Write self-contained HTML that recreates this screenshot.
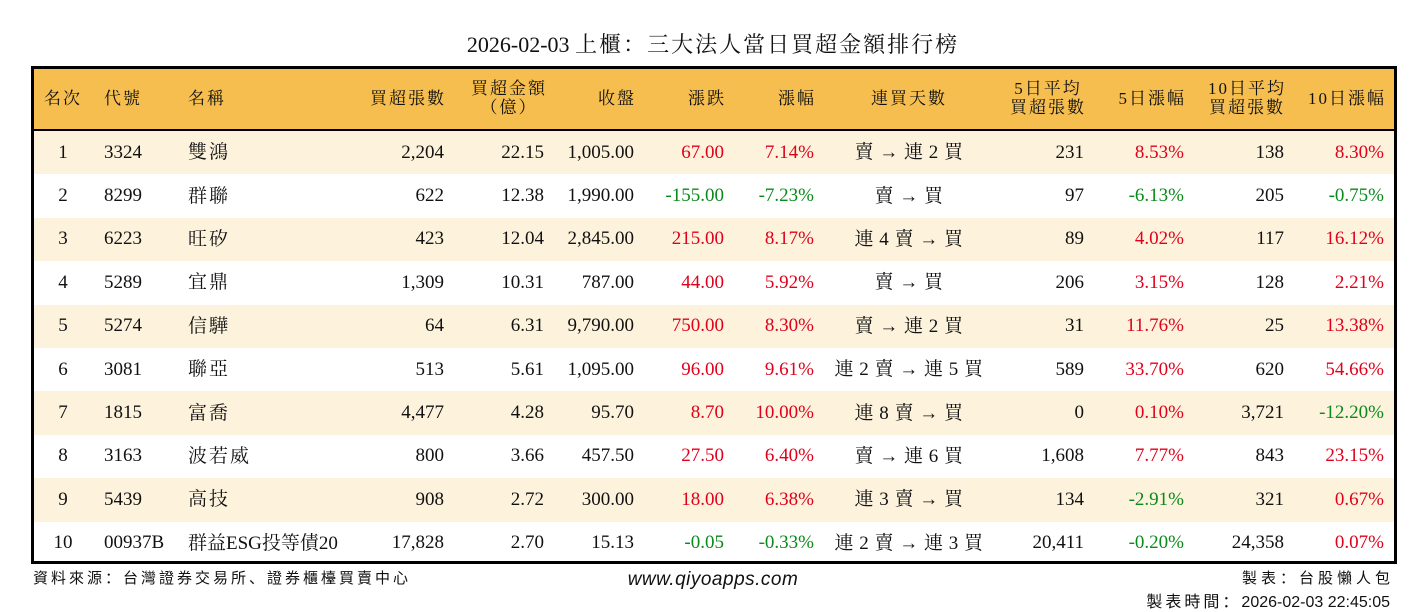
<!DOCTYPE html>
<html><head><meta charset="utf-8"><style>
body{margin:0;width:1426px;height:612px;background:#fff;position:relative;overflow:hidden;font-family:"Liberation Serif","Noto Serif CJK SC",serif;color:#111}
.title{position:absolute;top:28px;left:0;width:1426px;text-align:center;font-size:22px}
.title span{letter-spacing:2px}
.tbl{position:absolute;left:31px;top:66px;width:1360px;height:492px;border:3px solid #000}
.hdr{position:absolute;left:0;top:0;width:1360px;height:60px;background:#F6BE4F;border-bottom:3px solid #000}
.row{position:absolute;left:0;width:1360px;height:43.4px}
.odd{background:#FDF3DD}
.c{position:absolute;top:0;height:100%;display:flex;align-items:center;font-size:19px;white-space:nowrap;box-sizing:border-box}
.r{justify-content:flex-end;padding-right:10px}
.l{justify-content:flex-start;padding-left:12px}
.m{justify-content:center}
.hdr .c{font-size:17px;line-height:19px;text-align:center;flex-direction:column;letter-spacing:2px}
.hdr .c span{position:relative;top:-1px}
.hdr .c.r{align-items:flex-end;justify-content:center;padding-right:8px}
.hdr .c.l{align-items:flex-start;justify-content:center}
.hdr .c.m{align-items:center;justify-content:center}
.red{color:#E0001B}.grn{color:#0A8A1A}
.j{position:relative;top:-2px;letter-spacing:2px}
.f9 .j{letter-spacing:0.5px}
.a{font-family:"Liberation Serif",serif;font-size:19px;position:relative;top:0px}
.f1{left:0;width:58px}.f2{left:58px;width:84px}.f3{left:142px;width:175px}.f4{left:317px;width:103px}.f5{left:420px;width:100px}.f6{left:520px;width:90px}.f7{left:610px;width:90px}.f8{left:700px;width:90px}.f9{left:790px;width:170px}.f10{left:960px;width:100px}.f11{left:1060px;width:100px}.f12{left:1160px;width:100px}.f13{left:1260px;width:100px}
.foot{position:absolute;font-family:"Liberation Sans","Noto Sans CJK SC",sans-serif;font-size:15px}
.sp{letter-spacing:3px}
</style></head><body>
<div class="title">2026-02-03 <span>上櫃：三大法人當日買超金額排行榜</span></div>
<div class="tbl">
<div class="hdr">
<div class="c m f1"><span>名次</span></div><div class="c l f2"><span>代號</span></div><div class="c l f3"><span>名稱</span></div>
<div class="c r f4"><span>買超張數</span></div><div class="c m f5" style="padding-left:10px"><span>買超金額<br>（億）</span></div>
<div class="c r f6"><span>收盤</span></div><div class="c r f7"><span>漲跌</span></div><div class="c r f8"><span>漲幅</span></div>
<div class="c m f9"><span>連買天數</span></div><div class="c r f10"><span>5日平均<br>買超張數</span></div><div class="c r f11"><span>5日漲幅</span></div>
<div class="c r f12"><span>10日平均<br>買超張數</span></div><div class="c r f13"><span>10日漲幅</span></div>
</div>
<div class="row odd" style="top:62px"><div class="c m f1">1</div><div class="c l f2">3324</div><div class="c l f3"><span class="j">雙鴻</span></div><div class="c r f4">2,204</div><div class="c r f5">22.15</div><div class="c r f6">1,005.00</div><div class="c r f7 red">67.00</div><div class="c r f8 red">7.14%</div><div class="c m f9"><span class="j">賣 <span class="a">→</span> 連 2 買</span></div><div class="c r f10">231</div><div class="c r f11 red">8.53%</div><div class="c r f12">138</div><div class="c r f13 red">8.30%</div></div>
<div class="row" style="top:105.4px"><div class="c m f1">2</div><div class="c l f2">8299</div><div class="c l f3"><span class="j">群聯</span></div><div class="c r f4">622</div><div class="c r f5">12.38</div><div class="c r f6">1,990.00</div><div class="c r f7 grn">-155.00</div><div class="c r f8 grn">-7.23%</div><div class="c m f9"><span class="j">賣 <span class="a">→</span> 買</span></div><div class="c r f10">97</div><div class="c r f11 grn">-6.13%</div><div class="c r f12">205</div><div class="c r f13 grn">-0.75%</div></div>
<div class="row odd" style="top:148.8px"><div class="c m f1">3</div><div class="c l f2">6223</div><div class="c l f3"><span class="j">旺矽</span></div><div class="c r f4">423</div><div class="c r f5">12.04</div><div class="c r f6">2,845.00</div><div class="c r f7 red">215.00</div><div class="c r f8 red">8.17%</div><div class="c m f9"><span class="j">連 4 賣 <span class="a">→</span> 買</span></div><div class="c r f10">89</div><div class="c r f11 red">4.02%</div><div class="c r f12">117</div><div class="c r f13 red">16.12%</div></div>
<div class="row" style="top:192.2px"><div class="c m f1">4</div><div class="c l f2">5289</div><div class="c l f3"><span class="j">宜鼎</span></div><div class="c r f4">1,309</div><div class="c r f5">10.31</div><div class="c r f6">787.00</div><div class="c r f7 red">44.00</div><div class="c r f8 red">5.92%</div><div class="c m f9"><span class="j">賣 <span class="a">→</span> 買</span></div><div class="c r f10">206</div><div class="c r f11 red">3.15%</div><div class="c r f12">128</div><div class="c r f13 red">2.21%</div></div>
<div class="row odd" style="top:235.6px"><div class="c m f1">5</div><div class="c l f2">5274</div><div class="c l f3"><span class="j">信驊</span></div><div class="c r f4">64</div><div class="c r f5">6.31</div><div class="c r f6">9,790.00</div><div class="c r f7 red">750.00</div><div class="c r f8 red">8.30%</div><div class="c m f9"><span class="j">賣 <span class="a">→</span> 連 2 買</span></div><div class="c r f10">31</div><div class="c r f11 red">11.76%</div><div class="c r f12">25</div><div class="c r f13 red">13.38%</div></div>
<div class="row" style="top:279px"><div class="c m f1">6</div><div class="c l f2">3081</div><div class="c l f3"><span class="j">聯亞</span></div><div class="c r f4">513</div><div class="c r f5">5.61</div><div class="c r f6">1,095.00</div><div class="c r f7 red">96.00</div><div class="c r f8 red">9.61%</div><div class="c m f9"><span class="j">連 2 賣 <span class="a">→</span> 連 5 買</span></div><div class="c r f10">589</div><div class="c r f11 red">33.70%</div><div class="c r f12">620</div><div class="c r f13 red">54.66%</div></div>
<div class="row odd" style="top:322.4px"><div class="c m f1">7</div><div class="c l f2">1815</div><div class="c l f3"><span class="j">富喬</span></div><div class="c r f4">4,477</div><div class="c r f5">4.28</div><div class="c r f6">95.70</div><div class="c r f7 red">8.70</div><div class="c r f8 red">10.00%</div><div class="c m f9"><span class="j">連 8 賣 <span class="a">→</span> 買</span></div><div class="c r f10">0</div><div class="c r f11 red">0.10%</div><div class="c r f12">3,721</div><div class="c r f13 grn">-12.20%</div></div>
<div class="row" style="top:365.8px"><div class="c m f1">8</div><div class="c l f2">3163</div><div class="c l f3"><span class="j">波若威</span></div><div class="c r f4">800</div><div class="c r f5">3.66</div><div class="c r f6">457.50</div><div class="c r f7 red">27.50</div><div class="c r f8 red">6.40%</div><div class="c m f9"><span class="j">賣 <span class="a">→</span> 連 6 買</span></div><div class="c r f10">1,608</div><div class="c r f11 red">7.77%</div><div class="c r f12">843</div><div class="c r f13 red">23.15%</div></div>
<div class="row odd" style="top:409.2px"><div class="c m f1">9</div><div class="c l f2">5439</div><div class="c l f3"><span class="j">高技</span></div><div class="c r f4">908</div><div class="c r f5">2.72</div><div class="c r f6">300.00</div><div class="c r f7 red">18.00</div><div class="c r f8 red">6.38%</div><div class="c m f9"><span class="j">連 3 賣 <span class="a">→</span> 買</span></div><div class="c r f10">134</div><div class="c r f11 grn">-2.91%</div><div class="c r f12">321</div><div class="c r f13 red">0.67%</div></div>
<div class="row" style="top:452.6px"><div class="c m f1">10</div><div class="c l f2">00937B</div><div class="c l f3"><span class="j" style="letter-spacing:0">群益ESG投等債20</span></div><div class="c r f4">17,828</div><div class="c r f5">2.70</div><div class="c r f6">15.13</div><div class="c r f7 grn">-0.05</div><div class="c r f8 grn">-0.33%</div><div class="c m f9"><span class="j">連 2 賣 <span class="a">→</span> 連 3 買</span></div><div class="c r f10">20,411</div><div class="c r f11 grn">-0.20%</div><div class="c r f12">24,358</div><div class="c r f13 red">0.07%</div></div>
</div>
<div class="foot sp" style="left:33px;top:567px">資料來源：台灣證券交易所、證券櫃檯買賣中心</div>
<div class="foot" style="left:0;width:1426px;text-align:center;top:569px;font-style:italic;font-size:19px;letter-spacing:0.5px">www.qiyoapps.com</div>
<div class="foot" style="right:36px;top:567px;letter-spacing:4px;margin-right:-4px">製表：台股懶人包</div>
<div class="foot" style="right:36px;top:588px;font-size:16px"><span class="sp">製表時間：</span>2026-02-03 22:45:05</div>
</body></html>
